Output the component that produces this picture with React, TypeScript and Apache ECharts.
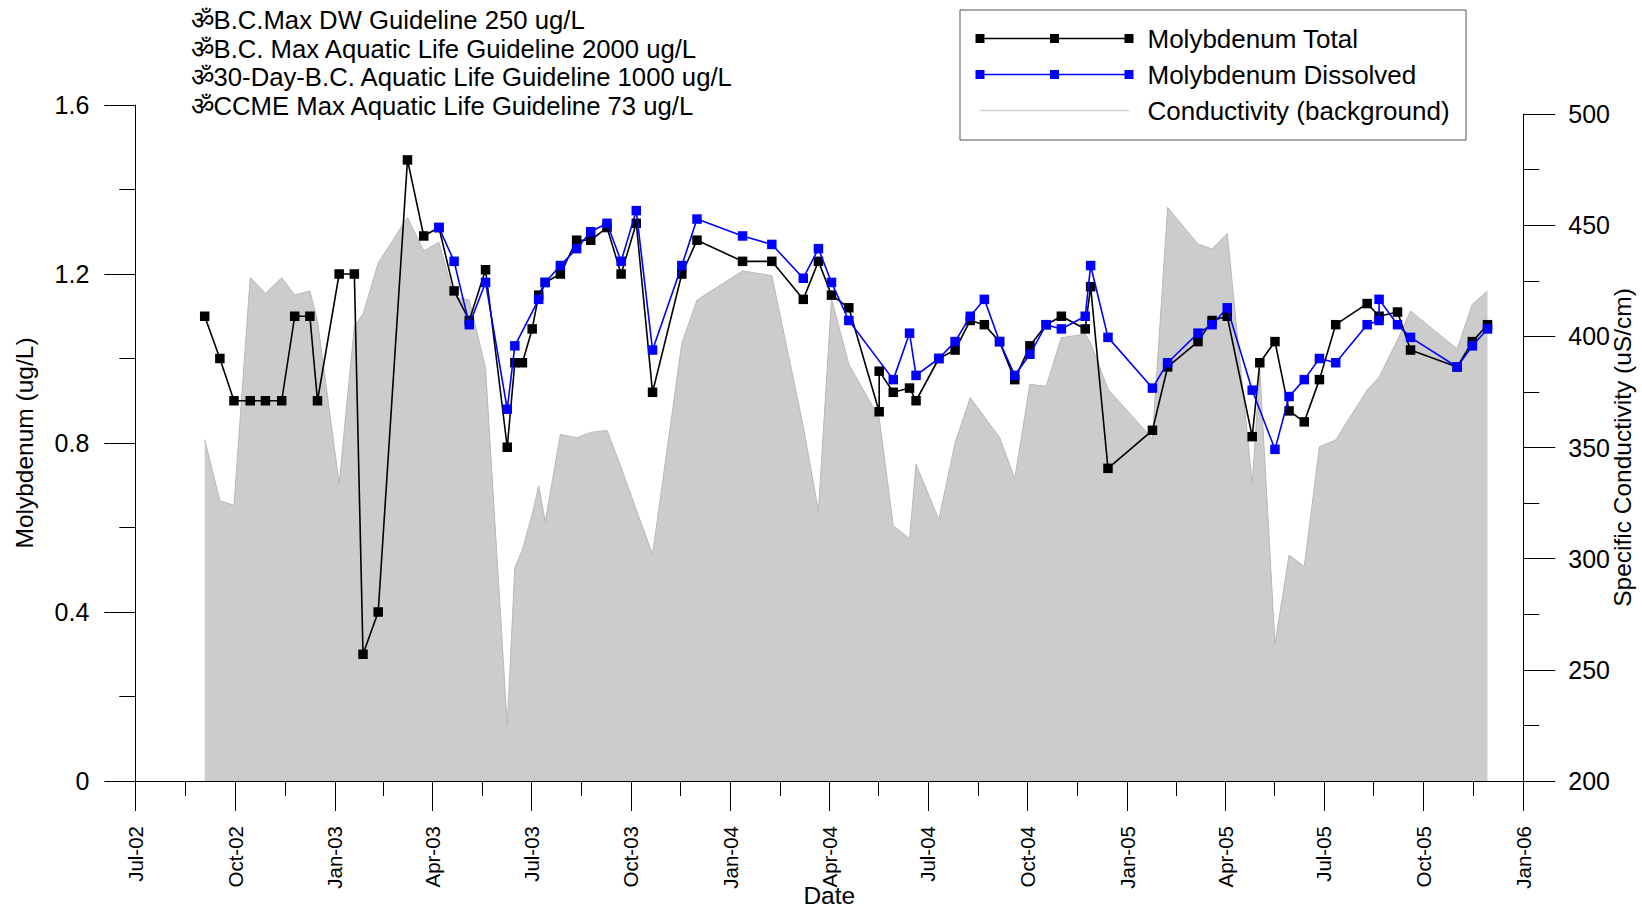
import React, { useEffect, useRef } from "react";
import * as echarts from "echarts";

const FONT = '"Liberation Sans", Arial, sans-serif';

const guidelineNotes = [
  "ॐB.C.Max DW Guideline 250 ug/L",
  "ॐB.C. Max Aquatic Life Guideline 2000 ug/L",
  "ॐ30-Day-B.C. Aquatic Life Guideline 1000 ug/L",
  "ॐCCME Max Aquatic Life Guideline 73 ug/L",
];

const quarterTicks = [
  "2002-07-01", "2002-10-01", "2003-01-01", "2003-04-01", "2003-07-01", "2003-10-01", "2004-01-01",
  "2004-04-01", "2004-07-01", "2004-10-01", "2005-01-01", "2005-04-01", "2005-07-01", "2005-10-01", "2006-01-01",
];
const monthNames = ["Jan", "Feb", "Mar", "Apr", "May", "Jun", "Jul", "Aug", "Sep", "Oct", "Nov", "Dec"];

const totalDates = [
  "2002-09-03", "2002-09-17", "2002-09-30", "2002-10-15", "2002-10-29", "2002-11-13", "2002-11-25", "2002-12-09", "2002-12-16",
  "2003-01-05", "2003-01-19", "2003-01-27", "2003-02-10", "2003-03-09", "2003-03-24", "2003-04-07", "2003-04-21", "2003-05-05",
  "2003-05-20", "2003-06-09", "2003-06-16", "2003-06-23", "2003-07-02", "2003-07-08", "2003-07-14", "2003-07-28", "2003-08-12",
  "2003-08-25", "2003-09-09", "2003-09-22", "2003-10-06", "2003-10-21", "2003-11-17", "2003-12-01",
  "2004-01-12", "2004-02-08", "2004-03-08", "2004-03-22", "2004-04-03", "2004-04-19", "2004-05-17", "2004-05-17", "2004-05-30",
  "2004-06-14", "2004-06-20", "2004-07-11", "2004-07-26", "2004-08-09", "2004-08-22", "2004-09-05", "2004-09-19", "2004-10-03",
  "2004-10-18", "2004-11-01", "2004-11-23", "2004-11-28", "2004-12-14",
  "2005-01-24", "2005-02-07", "2005-03-07", "2005-03-20", "2005-04-03", "2005-04-26", "2005-05-03", "2005-05-17", "2005-05-30",
  "2005-06-13", "2005-06-27", "2005-07-12", "2005-08-10", "2005-08-21", "2005-09-07", "2005-09-19", "2005-11-01", "2005-11-15", "2005-11-29",
];
const totalValues = [
  1.1, 1.0, 0.9, 0.9, 0.9, 0.9, 1.1, 1.1, 0.9,
  1.2, 1.2, 0.3, 0.4, 1.47, 1.29, 1.31, 1.16, 1.09,
  1.21, 0.79, 0.99, 0.99, 1.07, 1.15, 1.18, 1.2, 1.28,
  1.28, 1.31, 1.2, 1.32, 0.92, 1.2, 1.28,
  1.23, 1.23, 1.14, 1.23, 1.15, 1.12, 0.874, 0.97, 0.92,
  0.93, 0.9, 1.0, 1.02, 1.09, 1.08, 1.04, 0.95, 1.03,
  1.08, 1.1, 1.07, 1.17, 0.74,
  0.83, 0.98, 1.04, 1.09, 1.1, 0.815, 0.99, 1.04, 0.876,
  0.85, 0.95, 1.08, 1.13, 1.1, 1.11, 1.02, 0.98, 1.04, 1.08,
];

const dissolvedDates = [
  "2003-04-07", "2003-04-21", "2003-05-05", "2003-05-20", "2003-06-09", "2003-06-16", "2003-07-08", "2003-07-14", "2003-07-28",
  "2003-08-12", "2003-08-25", "2003-09-09", "2003-09-22", "2003-10-06", "2003-10-21", "2003-11-17", "2003-12-01",
  "2004-01-12", "2004-02-08", "2004-03-08", "2004-03-22", "2004-04-03", "2004-04-19", "2004-05-30", "2004-06-14", "2004-06-20",
  "2004-07-11", "2004-07-26", "2004-08-09", "2004-08-22", "2004-09-05", "2004-09-19", "2004-10-03", "2004-10-18", "2004-11-01",
  "2004-11-23", "2004-11-28", "2004-12-14",
  "2005-01-24", "2005-02-07", "2005-03-07", "2005-03-20", "2005-04-03", "2005-04-26", "2005-05-17", "2005-05-30", "2005-06-13",
  "2005-06-27", "2005-07-12", "2005-08-10", "2005-08-21", "2005-08-21", "2005-09-07", "2005-09-19", "2005-11-01", "2005-11-15", "2005-11-29",
];
const dissolvedValues = [
  1.31, 1.23, 1.08, 1.18, 0.88, 1.03, 1.14, 1.18, 1.22,
  1.26, 1.3, 1.32, 1.23, 1.35, 1.02, 1.22, 1.33,
  1.29, 1.27, 1.19, 1.26, 1.18, 1.09, 0.95, 1.06, 0.96,
  1.0, 1.04, 1.1, 1.14, 1.04, 0.96, 1.01, 1.08, 1.07,
  1.1, 1.22, 1.05,
  0.93, 0.99, 1.06, 1.08, 1.12, 0.925, 0.785, 0.91, 0.95,
  1.0, 0.99, 1.08, 1.09, 1.14, 1.08, 1.05, 0.98, 1.03, 1.07,
];

const conductivityDates = [
  "2002-09-03", "2002-09-17", "2002-09-30", "2002-10-15", "2002-10-29", "2002-11-13", "2002-11-25", "2002-12-09", "2002-12-16",
  "2003-01-05", "2003-01-19", "2003-01-27", "2003-02-10", "2003-03-09", "2003-03-24", "2003-04-07", "2003-04-21", "2003-05-05",
  "2003-05-20", "2003-06-09", "2003-06-16", "2003-06-23", "2003-07-02", "2003-07-08", "2003-07-14", "2003-07-28", "2003-08-12",
  "2003-08-25", "2003-09-09", "2003-09-22", "2003-10-06", "2003-10-21", "2003-11-17", "2003-12-01",
  "2004-01-12", "2004-02-08", "2004-03-08", "2004-03-22", "2004-04-03", "2004-04-19", "2004-05-17", "2004-05-30",
  "2004-06-14", "2004-06-20", "2004-07-11", "2004-07-26", "2004-08-09", "2004-08-22", "2004-09-05", "2004-09-19", "2004-10-03",
  "2004-10-18", "2004-11-01", "2004-11-23", "2004-11-28", "2004-12-14",
  "2005-01-24", "2005-02-07", "2005-03-07", "2005-03-20", "2005-04-03", "2005-04-26", "2005-05-03", "2005-05-17", "2005-05-30",
  "2005-06-13", "2005-06-27", "2005-07-12", "2005-08-10", "2005-08-21", "2005-09-07", "2005-09-19", "2005-11-01", "2005-11-15", "2005-11-29",
];
const conductivityValues = [
  353.5, 326, 324, 426.5, 419.3, 426.4, 418.6, 420.4, 407,
  333.7, 404.6, 410, 433, 453.5, 438.4, 442.3, 417.8, 416.3,
  385.6, 224.9, 296, 304, 320, 332.7, 316.7, 355.8, 354.4,
  356.8, 357.7, 341, 322, 302, 396.9, 416.3,
  429.4, 427.3, 359.5, 321.4, 417, 387.4, 363.3, 314.8,
  309, 342.5, 317.6, 352, 372.4, 363.8, 354.6, 336, 378.4,
  377.5, 399.4, 401, 397, 376.2,
  354, 458, 441.5, 439.3, 446.3, 333.8, 385, 261.6, 301.6,
  296.5, 350.3, 353.4, 375.9, 381.6, 398.4, 411.4, 394.3, 414.4, 420.4,
];

const ms = (d: string) => Date.parse(d + "T00:00:00Z");
const pairs = (dates: string[], values: number[]) => dates.map((d, i) => [ms(d), values[i]]);

const ICON_MARKED =
  "path://M0 0H9V9H0Z M74.5 0H83.5V9H74.5Z M149 0H158V9H149Z M9 3.8H74.5V5.2H9Z M83.5 3.8H149V5.2H83.5Z";
const ICON_PLAIN =
  "path://M0 0h.01v.01H0Z M158 9h.01v.01H158Z M4 3.8H154V5.2H4Z";

export default function App() {
  const ref = useRef<HTMLDivElement>(null);

  useEffect(() => {
    document.body.style.margin = "0";
    const chart = echarts.init(ref.current!, undefined, { renderer: "svg" });
    const majors = quarterTicks.map(ms);
    const minors = majors.slice(1).map((m, i) => (m + majors[i]) / 2);
    const tickLine = { color: "#000", width: 1 };
    const axisText = { fontFamily: FONT, fontSize: 25, color: "#000" };
    const nameText = { fontFamily: FONT, fontSize: 24.5, color: "#000" };
    const grids = [
      { left: 135.3, right: 118.7, top: 105, bottom: 130, outerBoundsMode: "none" },
      { left: 135.3, right: 118.7, top: 114, bottom: 130, outerBoundsMode: "none" },
    ];
    chart.setOption({
      animation: false,
      backgroundColor: "#fff",
      grid: grids,
      legend: {
        orient: "vertical",
        left: 960,
        top: 10,
        selectedMode: false,
        symbolKeepAspect: false,
        itemWidth: 158,
        itemHeight: 9,
        itemGap: 7,
        padding: [14, 16.5, 15, 15.5],
        backgroundColor: "#fff",
        borderColor: "#555",
        borderWidth: 1,
        textStyle: { fontFamily: FONT, fontSize: 26, color: "#000", padding: [0, 0, 0, 9], lineHeight: 29 },
        data: [
          { name: "Molybdenum Total", icon: ICON_MARKED, itemStyle: { color: "#000" } },
          { name: "Molybdenum Dissolved", icon: ICON_MARKED, itemStyle: { color: "#0000ff" } },
          { name: "Conductivity (background)", icon: ICON_PLAIN, itemStyle: { color: "#d2d2d2" } },
        ],
      },
      xAxis: [
        {
          type: "value",
          gridIndex: 0,
          min: majors[0],
          max: majors[majors.length - 1],
          name: "Date",
          nameLocation: "middle",
          nameGap: 102,
          nameMoveOverlap: false,
          nameTextStyle: nameText,
          axisLine: { onZero: false, lineStyle: tickLine },
          axisTick: { show: true, length: 30, customValues: majors, lineStyle: tickLine },
          axisLabel: {
            customValues: majors,
            rotate: 90,
            margin: 45,
            fontFamily: FONT,
            fontSize: 20.5,
            color: "#000",
            hideOverlap: false,
            formatter: (v: number) => {
              const d = new Date(v);
              return `${monthNames[d.getUTCMonth()]}-${String(d.getUTCFullYear()).slice(2)}`;
            },
          },
          splitLine: { show: false },
        },
        {
          type: "value",
          gridIndex: 1,
          min: majors[0],
          max: majors[majors.length - 1],
          axisLine: { show: false, onZero: false },
          axisTick: { show: true, length: 15, customValues: minors, lineStyle: tickLine },
          axisLabel: { show: false },
          splitLine: { show: false },
        },
      ],
      yAxis: [
        {
          type: "value",
          gridIndex: 0,
          min: 0,
          max: 1.6,
          interval: 0.4,
          name: "Molybdenum (ug/L)",
          nameLocation: "middle",
          nameGap: 98,
          nameMoveOverlap: false,
          nameTextStyle: nameText,
          axisLine: { show: true, onZero: false, lineStyle: tickLine },
          axisTick: { show: true, length: 31, lineStyle: tickLine },
          minorTick: { show: true, splitNumber: 2, length: 16, lineStyle: tickLine },
          axisLabel: { margin: 46, ...axisText },
          splitLine: { show: false },
        },
        {
          type: "value",
          gridIndex: 1,
          position: "right",
          min: 200,
          max: 500,
          interval: 50,
          name: "Specific Conductivity (uS/cm)",
          nameLocation: "middle",
          nameGap: 87,
          nameMoveOverlap: false,
          nameTextStyle: nameText,
          axisLine: { show: true, onZero: false, lineStyle: tickLine },
          axisTick: { show: true, length: 32, lineStyle: tickLine },
          minorTick: { show: true, splitNumber: 2, length: 16, lineStyle: tickLine },
          axisLabel: { margin: 45, ...axisText },
          splitLine: { show: false },
        },
      ],
      graphic: guidelineNotes.map((text, i) => ({
        type: "text",
        x: 190.5,
        y: 20 + i * 28.7,
        style: { text, fontFamily: FONT, fontSize: 25.7, fill: "#000", textVerticalAlign: "middle", textAlign: "left" },
      })),
      series: [
        {
          name: "Conductivity (background)",
          type: "line",
          xAxisIndex: 1,
          yAxisIndex: 1,
          z: 1,
          symbol: "none",
          data: pairs(conductivityDates, conductivityValues),
          lineStyle: { color: "#b8b8b8", width: 1 },
          itemStyle: { color: "#d2d2d2" },
          areaStyle: { color: "#cccccc", opacity: 1, origin: "start" },
        },
        {
          name: "Molybdenum Total",
          type: "line",
          xAxisIndex: 0,
          yAxisIndex: 0,
          z: 3,
          symbol: "rect",
          symbolSize: 9.5,
          showAllSymbol: true,
          data: pairs(totalDates, totalValues),
          lineStyle: { color: "#000", width: 1.6 },
          itemStyle: { color: "#000" },
        },
        {
          name: "Molybdenum Dissolved",
          type: "line",
          xAxisIndex: 0,
          yAxisIndex: 0,
          z: 4,
          symbol: "rect",
          symbolSize: 9.5,
          showAllSymbol: true,
          data: pairs(dissolvedDates, dissolvedValues),
          lineStyle: { color: "#0000ff", width: 1.6 },
          itemStyle: { color: "#0000ff" },
        },
      ],
    });
    return () => chart.dispose();
  }, []);

  return <div ref={ref} style={{ width: 1642, height: 911, overflow: "hidden" }} />;
}
